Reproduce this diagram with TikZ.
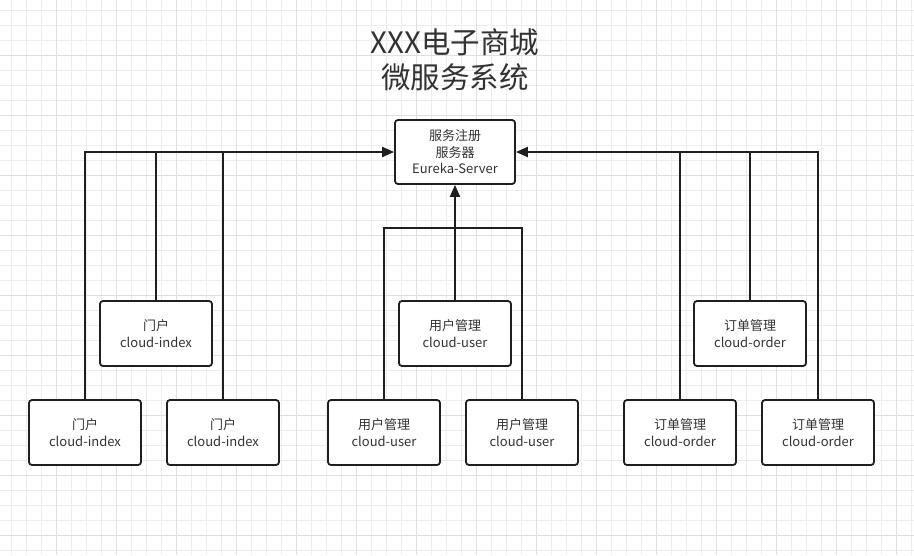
\documentclass[tikz,border=0pt]{standalone}
\usepackage{fontspec}
\setmainfont{Noto Sans CJK SC}
\usetikzlibrary{arrows.meta}
\definecolor{gridminor}{HTML}{EDEDED}
\definecolor{gridmajor}{HTML}{DFDFDF}
\definecolor{ink}{HTML}{1F1F1F}
\definecolor{txt}{HTML}{333333}
\tikzset{
  svcbox/.style={draw=ink, line width=1.8pt, rounded corners=3pt, fill=white,
    minimum width=112pt, minimum height=65pt, align=center, text=txt,
    font=\fontsize{13}{16.5}\selectfont, inner sep=2pt},
  link/.style={draw=ink, line width=2pt},
  arr/.style={link, -{Triangle[length=12pt,width=10pt]}},
}
\begin{document}
\begin{tikzpicture}[x=1pt,y=-1pt]
\useasboundingbox (0,0) rectangle (914,555);
\fill[white] (0,0) rectangle (914,555);
% background grid
\foreach \gx in {0,...,60} {
  \pgfmathsetmacro{\px}{11.7+15*\gx}
  \draw[gridminor, line width=0.8pt] (\px,0) -- (\px,555);
}
\foreach \gy in {0,...,37} {
  \pgfmathsetmacro{\py}{10+15*\gy}
  \draw[gridminor, line width=0.8pt] (0,\py) -- (914,\py);
}
\foreach \gx in {0,...,15} {
  \pgfmathsetmacro{\px}{56.7+60*\gx}
  \draw[gridmajor, line width=0.8pt] (\px,0) -- (\px,555);
}
\foreach \gy in {0,...,9} {
  \pgfmathsetmacro{\py}{55+60*\gy}
  \draw[gridmajor, line width=0.8pt] (0,\py) -- (914,\py);
}

% title
\node[text=txt, font=\fontsize{29.5}{35}\selectfont, align=center] (title) at (455,60)
  {XXX电子商城\\微服务系统};

% registry server
\node[svcbox, minimum width=120pt, minimum height=64pt] (srv) at (455,152) {服务注册\\服务器\\Eureka-Server};

% portal services
\node[svcbox] (a1) at (85,432.5) {门户\\cloud-index};
\node[svcbox] (a0) at (156,333.5) {门户\\cloud-index};
\node[svcbox] (a2) at (223,432.5) {门户\\cloud-index};

% user services
\node[svcbox] (b1) at (384,432.5) {用户管理\\cloud-user};
\node[svcbox] (b0) at (455,333.5) {用户管理\\cloud-user};
\node[svcbox] (b2) at (522,432.5) {用户管理\\cloud-user};

% order services
\node[svcbox] (c1) at (680,432.5) {订单管理\\cloud-order};
\node[svcbox] (c0) at (750,333.5) {订单管理\\cloud-order};
\node[svcbox] (c2) at (818,432.5) {订单管理\\cloud-order};

% registrations, left group
\draw[arr] (a1.north) |- (srv.west);
\draw[link] (a0.north) -- (a0.north |- srv.west);
\draw[link] (a2.north) -- (a2.north |- srv.west);

% registrations, middle group
\coordinate (bj) at (455,228);
\draw[arr] (b0.north) -- (b0.north |- srv.south);
\draw[link] (b1.north) |- (bj) -| (b2.north);

% registrations, right group
\draw[arr] (c2.north) |- (srv.east);
\draw[link] (c0.north) -- (c0.north |- srv.east);
\draw[link] (c1.north) -- (c1.north |- srv.east);
\end{tikzpicture}
\end{document}
